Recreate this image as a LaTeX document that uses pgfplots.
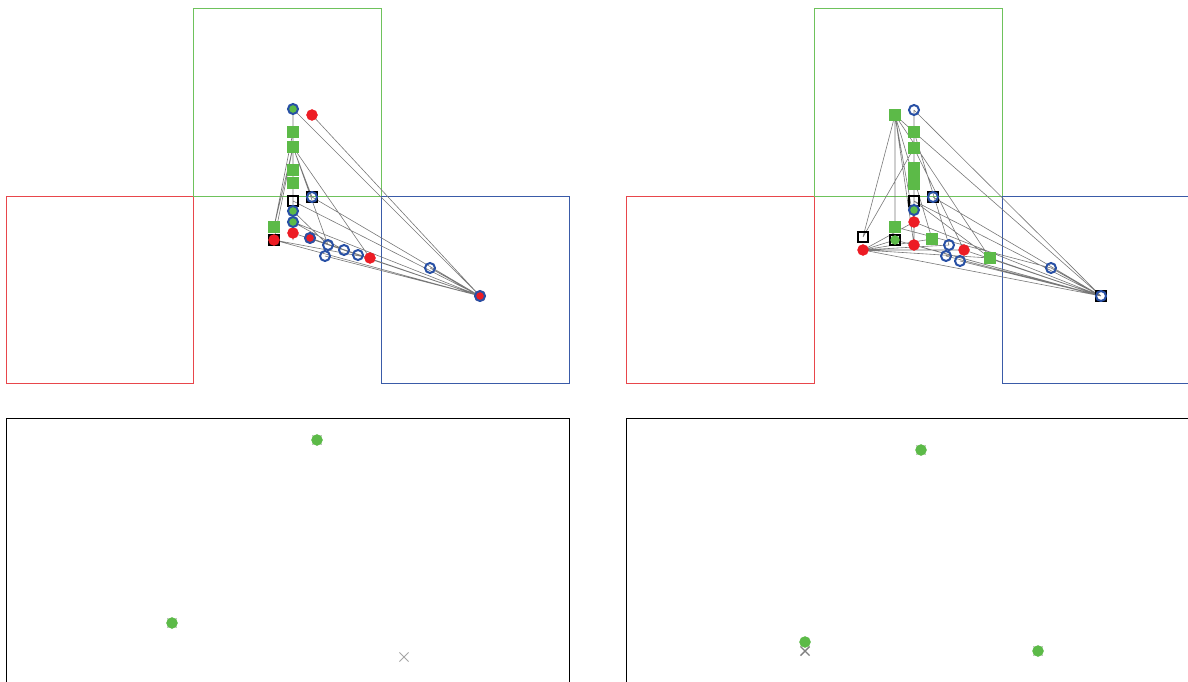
\documentclass[border=0pt]{standalone}
\usepackage{pgfplots}
\pgfplotsset{compat=1.18}
\definecolor{cred}{RGB}{237,28,36}
\definecolor{cgreen}{RGB}{92,186,72}
\definecolor{cblue}{RGB}{40,80,165}
\definecolor{bred}{RGB}{232,70,75}
\definecolor{bgreen}{RGB}{110,194,92}
\definecolor{bblue}{RGB}{58,91,168}
\definecolor{edge}{RGB}{120,120,120}
\begin{document}
\begin{tikzpicture}
\begin{axis}[
  scale only axis, width=1188pt, height=682pt,
  xmin=0, xmax=1188, ymin=0, ymax=682, y dir=reverse,
  axis line style={draw=none}, ticks=none,
  unbounded coords=jump, clip=true,
]
% panel boxes
\addplot[bred, line width=1pt] coordinates {(6,196) (193,196) (193,383) (6,383) (6,196)};
\addplot[bgreen, line width=1pt] coordinates {(193,9) (381,9) (381,196) (193,196) (193,9)};
\addplot[bblue, line width=1pt] coordinates {(381,196) (569,196) (569,383) (381,383) (381,196)};
\addplot[bred, line width=1pt] coordinates {(626,196) (814,196) (814,383) (626,383) (626,196)};
\addplot[bgreen, line width=1pt] coordinates {(814,9) (1002,9) (1002,196) (814,196) (814,9)};
\addplot[bblue, line width=1pt] coordinates {(1002,196) (1200,196) (1200,383) (1002,383) (1002,196)};
\addplot[black, line width=1pt] coordinates {(6,700) (6,418) (569,418) (569,700)};
\addplot[black, line width=1pt] coordinates {(626,700) (626,418) (1200,418)};
% edges top-left
\addplot[edge, line width=0.6pt] coordinates {
(480,296) (293,109) (nan,nan)
(480,296) (312,115) (nan,nan)
(480,296) (293,201) (nan,nan)
(480,296) (312,197) (nan,nan)
(480,296) (293,222) (nan,nan)
(480,296) (274,240) (nan,nan)
(480,296) (293,233) (nan,nan)
(480,296) (310,238) (nan,nan)
(480,296) (325,256) (nan,nan)
(480,296) (344,250) (nan,nan)
(480,296) (358,255) (nan,nan)
(480,296) (430,268) (nan,nan)
(293,109) (293,240) (nan,nan)
(293,147) (274,227) (nan,nan)
(293,147) (274,240) (nan,nan)
(293,147) (328,245) (nan,nan)
(293,147) (370,258) (nan,nan)
(293,147) (312,197) (nan,nan)
(293,132) (274,227) (nan,nan)
(293,211) (328,245) (nan,nan)
(274,240) (370,258) (nan,nan)
(293,222) (344,250) (nan,nan)
};
% edges top-right
\addplot[edge, line width=0.6pt] coordinates {
(1101,296) (914,110) (nan,nan)
(1101,296) (914,132) (nan,nan)
(1101,296) (933,197) (nan,nan)
(1101,296) (914,201) (nan,nan)
(1101,296) (863,250) (nan,nan)
(1101,296) (895,240) (nan,nan)
(1101,296) (914,245) (nan,nan)
(1101,296) (946,256) (nan,nan)
(1101,296) (960,261) (nan,nan)
(1101,296) (964,250) (nan,nan)
(1101,296) (990,258) (nan,nan)
(1101,296) (1051,268) (nan,nan)
(1101,296) (914,222) (nan,nan)
(895,115) (863,237) (nan,nan)
(895,115) (895,227) (nan,nan)
(895,115) (914,222) (nan,nan)
(895,115) (932,239) (nan,nan)
(895,115) (990,258) (nan,nan)
(895,115) (914,245) (nan,nan)
(895,115) (914,132) (nan,nan)
(914,148) (863,237) (nan,nan)
(914,148) (964,250) (nan,nan)
(914,132) (949,245) (nan,nan)
(914,110) (914,245) (nan,nan)
(863,250) (895,240) (nan,nan)
(863,250) (932,239) (nan,nan)
(863,250) (949,245) (nan,nan)
(863,250) (964,250) (nan,nan)
(863,250) (990,258) (nan,nan)
(863,250) (914,222) (nan,nan)
(895,227) (1051,268) (nan,nan)
(914,201) (990,258) (nan,nan)
};
% green squares
\addplot[only marks, color=cgreen, mark=square*, mark size=5.5pt] coordinates {
(293,132) (293,147) (293,170) (293,183) (274,227)
(895,115) (914,132) (914,148) (914,168) (914,176) (914,184) (895,227) (932,239) (990,258)
};
% black open squares
\addplot[only marks, color=black, line width=2pt, mark=square, mark size=5pt] coordinates {
(293,201) (312,197) (274,240)
(914,201) (933,197) (863,237) (895,240) (1101,296)
};
% red circles
\addplot[only marks, color=cred, mark=*, mark size=5.5pt] coordinates {
(312,115) (274,240) (293,233) (310,238) (370,258) (480,296)
(914,222) (863,250) (914,245) (964,250)
};
% green circles (inside blue rings)
\addplot[only marks, color=cgreen, mark=*, mark size=4.5pt] coordinates {
(293,109) (293,211) (293,222) (914,210) (895,240)
};
% blue rings
\addplot[only marks, color=cblue, line width=2pt, mark=o, mark size=5pt] coordinates {
(293,109) (293,211) (293,222) (310,238) (328,245) (325,256) (344,250) (358,255) (430,268) (480,296) (312,197)
(914,110) (914,210) (949,245) (946,256) (960,261) (1051,268) (1101,296) (933,197)
};
% bottom panels: grey crosses
\addplot[only marks, color=gray!70, line width=0.8pt, mark=x, mark size=6.5pt] coordinates {
(317,440) (172,623) (404,657) (921,450) (1038,651)
};
\addplot[only marks, color=gray, line width=1.4pt, mark=x, mark size=6.5pt] coordinates {
(805,651)
};
\addplot[only marks, color=cgreen, mark=*, mark size=5.5pt] coordinates {
(317,440) (172,623) (921,450) (805,642) (1038,651)
};
\end{axis}
\end{tikzpicture}
\end{document}
